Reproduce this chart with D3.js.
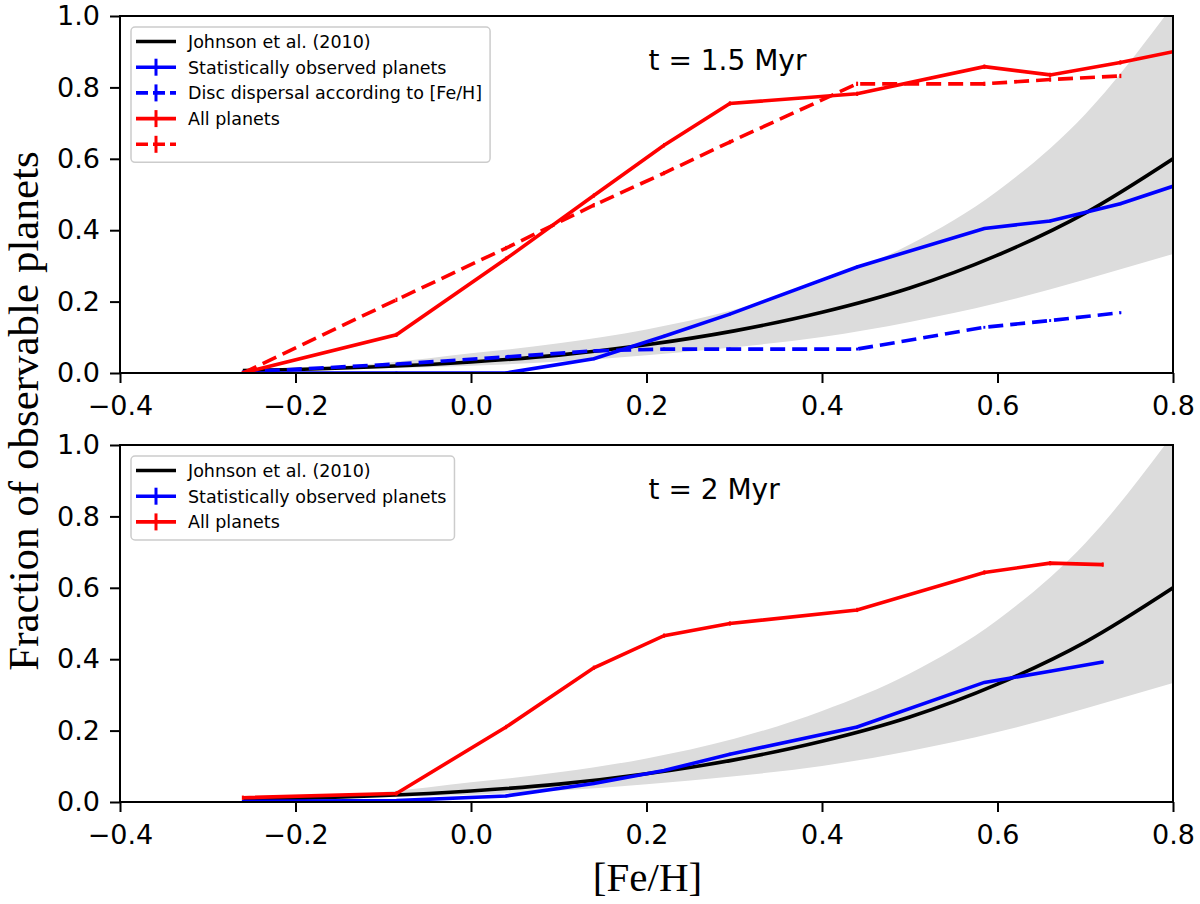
<!DOCTYPE html>
<html>
<head>
<meta charset="utf-8">
<script src="https://cdn.jsdelivr.net/npm/d3@7"></script>
<style>
  body { margin: 0; background: #fff; }
  svg { display: block; }
  text { font-family: "DejaVu Sans", sans-serif; }
</style>
</head>
<body>
<svg width="1200" height="904"></svg>
<script>
// ---- data ----
const xTicks = [-0.4, -0.2, 0.0, 0.2, 0.4, 0.6, 0.8];
const yTicks = [0.0, 0.2, 0.4, 0.6, 0.8, 1.0];

// Johnson et al. (2010) relation and its shaded range (same in both panels)
const johnsonFeH = [-0.26, -0.2, -0.1, 0.0, 0.1, 0.2, 0.3, 0.4, 0.5, 0.6, 0.7, 0.8];
const johnsonFrac = [0.007, 0.010, 0.018, 0.031, 0.050, 0.079, 0.118, 0.170, 0.238, 0.330, 0.448, 0.600];
const bandLow = [0.006, 0.008, 0.013, 0.020, 0.032, 0.050, 0.072, 0.101, 0.143, 0.196, 0.262, 0.333];
const bandHigh = [0.009, 0.014, 0.028, 0.055, 0.083, 0.122, 0.177, 0.255, 0.360, 0.510, 0.725, 1.030];

// t = 1.5 Myr
const fehTop = [-0.26, -0.085, 0.04, 0.14, 0.22, 0.295, 0.44, 0.585, 0.66, 0.74, 0.8];
const topAll = [0.0, 0.107, 0.32, 0.497, 0.638, 0.755, 0.782, 0.858, 0.835, 0.870, 0.900];
const topStat = [0.0, 0.0, 0.0, 0.040, 0.103, 0.165, 0.297, 0.405, 0.426, 0.474, 0.523];
const fehTopDisc = [-0.26, -0.085, 0.04, 0.14, 0.22, 0.295, 0.44, 0.585, 0.66, 0.74];
const topAllDisc = [0.0, 0.205, 0.35, 0.47, 0.56, 0.647, 0.81, 0.81, 0.822, 0.832];
const topStatDisc = [0.003, 0.025, 0.045, 0.062, 0.067, 0.067, 0.067, 0.128, 0.147, 0.169];

// t = 2 Myr
const fehBottom = [-0.26, -0.085, 0.04, 0.14, 0.22, 0.295, 0.44, 0.585, 0.66, 0.72];
const bottomAll = [0.012, 0.024, 0.21, 0.376, 0.466, 0.50, 0.538, 0.643, 0.669, 0.665];
const bottomStat = [0.002, 0.004, 0.017, 0.052, 0.088, 0.134, 0.21, 0.335, 0.366, 0.392];

// half size of the (tiny) error bars: all, statistical
const errHalf = [0.006, 0.004];

const svg = d3.select("svg");
const left = 120, right = 1173;
const dashed = "15,7";
const lw = 3.6;
const panels = [
    { top: 16, bottom: 373, label: "t = 1.5 Myr",
      series: [
        { x: fehTop, y: topStat, color: "blue", dash: null, err: errHalf[1] },
        { x: fehTopDisc, y: topStatDisc, color: "blue", dash: dashed, err: errHalf[1] },
        { x: fehTop, y: topAll, color: "red", dash: null, err: errHalf[0] },
        { x: fehTopDisc, y: topAllDisc, color: "red", dash: dashed, err: errHalf[0] }
      ],
      legend: [
        { text: "Johnson et al. (2010)", color: "black", dash: null, bar: false },
        { text: "Statistically observed planets", color: "blue", dash: null, bar: true },
        { text: "Disc dispersal according to [Fe/H]", color: "blue", dash: "12,5", bar: true },
        { text: "All planets", color: "red", dash: null, bar: true },
        { text: "", color: "red", dash: "12,5", bar: true }
      ] },
    { top: 445, bottom: 802, label: "t = 2 Myr",
      series: [
        { x: fehBottom, y: bottomStat, color: "blue", dash: null, err: errHalf[1] },
        { x: fehBottom, y: bottomAll, color: "red", dash: null, err: errHalf[0] }
      ],
      legend: [
        { text: "Johnson et al. (2010)", color: "black", dash: null, bar: false },
        { text: "Statistically observed planets", color: "blue", dash: null, bar: true },
        { text: "All planets", color: "red", dash: null, bar: true }
      ] }
];

const x = d3.scaleLinear().domain([-0.4, 0.8]).range([left, right]);

panels.forEach((p, pi) => {
    const y = d3.scaleLinear().domain([0, 1]).range([p.bottom, p.top]);
    const g = svg.append("g");

    // clip everything to the axes box
    g.append("clipPath").attr("id", "clip" + pi)
        .append("rect")
        .attr("x", left).attr("y", p.top)
        .attr("width", right - left).attr("height", p.bottom - p.top);
    const plot = g.append("g").attr("clip-path", `url(#clip${pi})`);

    // shaded range of the Johnson relation
    const area = d3.area()
        .x((d, i) => x(johnsonFeH[i]))
        .y0((d, i) => y(bandLow[i]))
        .y1((d, i) => y(bandHigh[i]))
        .curve(d3.curveMonotoneX);
    plot.append("path").datum(johnsonFeH)
        .attr("d", area)
        .attr("fill", "#dcdcdc");

    // Johnson et al. curve
    const jLine = d3.line()
        .x((d, i) => x(johnsonFeH[i]))
        .y((d, i) => y(johnsonFrac[i]))
        .curve(d3.curveMonotoneX);
    plot.append("path").datum(johnsonFeH)
        .attr("d", jLine)
        .attr("fill", "none")
        .attr("stroke", "black")
        .attr("stroke-width", lw);

    // model series with error bars
    p.series.forEach(s => {
        const line = d3.line()
            .x((d, i) => x(s.x[i]))
            .y((d, i) => y(s.y[i]));
        plot.append("path").datum(s.y)
            .attr("d", line)
            .attr("fill", "none")
            .attr("stroke", s.color)
            .attr("stroke-width", lw)
            .attr("stroke-dasharray", s.dash);
        plot.selectAll(null)
            .data(s.y)
            .join("line")
            .attr("x1", (d, i) => x(s.x[i]))
            .attr("x2", (d, i) => x(s.x[i]))
            .attr("y1", d => y(d - s.err))
            .attr("y2", d => y(d + s.err))
            .attr("stroke", s.color)
            .attr("stroke-width", 2);
    });

    // axes
    const xAxis = d3.axisBottom(x)
        .tickValues(xTicks)
        .tickFormat(d3.format(".1f"))
        .tickSize(10)
        .tickPadding(13);
    const yAxis = d3.axisLeft(y)
        .tickValues(yTicks)
        .tickFormat(d3.format(".1f"))
        .tickSize(10)
        .tickPadding(10);

    const gx = g.append("g").attr("transform", `translate(0,${p.bottom})`).call(xAxis);
    const gy = g.append("g").attr("transform", `translate(${left},0)`).call(yAxis);
    [gx, gy].forEach(a => {
        a.select(".domain").remove();
        a.selectAll(".tick line").attr("stroke", "black").attr("stroke-width", 2);
        a.selectAll(".tick text").attr("fill", "black").style("font-size", "27px");
    });

    // axes frame
    g.append("rect")
        .attr("x", left).attr("y", p.top)
        .attr("width", right - left).attr("height", p.bottom - p.top)
        .attr("fill", "none")
        .attr("stroke", "black")
        .attr("stroke-width", 2);

    // time annotation
    g.append("text")
        .attr("x", x(0.2) + 2)
        .attr("y", y(0.85))
        .style("font-size", "28px")
        .text(p.label);

    // legend
    const lg = g.append("g");
    const boxX = 131, boxY = p.top + 11, rowH = 25.7;
    const boxH = 14.5 + (p.legend.length - 1) * rowH + 18;
    const box = lg.append("rect")
        .attr("x", boxX).attr("y", boxY)
        .attr("rx", 4).attr("ry", 4)
        .attr("height", boxH)
        .attr("fill", "white").attr("fill-opacity", 0.8)
        .attr("stroke", "#cccccc").attr("stroke-width", 1.5);
    let maxW = 0;
    p.legend.forEach((e, i) => {
        const cy = boxY + 14.5 + i * rowH;
        lg.append("line")
            .attr("x1", 136).attr("x2", 176)
            .attr("y1", cy).attr("y2", cy)
            .attr("stroke", e.color)
            .attr("stroke-width", lw)
            .attr("stroke-dasharray", e.dash);
        if (e.bar) {
            lg.append("line")
                .attr("x1", 156).attr("x2", 156)
                .attr("y1", cy - 8.5).attr("y2", cy + 8.5)
                .attr("stroke", e.color)
                .attr("stroke-width", 3);
        }
        const t = lg.append("text")
            .attr("x", 188).attr("y", cy)
            .attr("dy", "0.36em")
            .style("font-size", "17.5px")
            .text(e.text);
        maxW = Math.max(maxW, t.node().getComputedTextLength());
    });
    box.attr("width", 188 - boxX + maxW + 8);
});

// axis labels
svg.append("text")
    .attr("transform", "translate(38,411) rotate(-90)")
    .attr("text-anchor", "middle")
    .style("font-family", "'Liberation Serif', 'Times New Roman', serif")
    .style("font-size", "43px")
    .text("Fraction of observable planets");

svg.append("text")
    .attr("x", (left + right) / 2 + 1)
    .attr("y", 891)
    .attr("text-anchor", "middle")
    .style("font-family", "'Liberation Serif', 'Times New Roman', serif")
    .style("font-size", "41px")
    .text("[Fe/H]");
</script>
</body>
</html>
